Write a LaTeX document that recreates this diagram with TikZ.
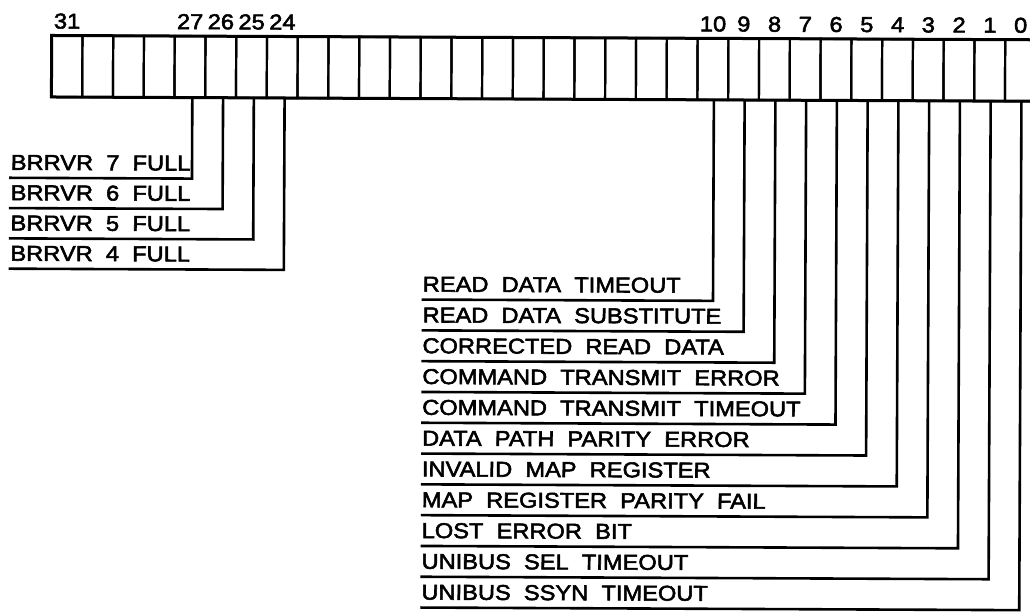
\documentclass[tikz,border=0pt]{standalone}
\usepackage{fontspec}
\newfontfamily\lblfont{Liberation Sans}[FakeStretch=1.1, WordSpace=2.0, FakeBold=2.5]
\tikzset{
  cell/.style={draw, line width=2.2pt, minimum width=30.76pt, minimum height=61.5pt, inner sep=0pt, outer sep=0pt},
  frame/.style={line width=3pt},
  bitnum/.style={font=\lblfont\fontsize{21.5}{26}\selectfont, inner sep=0pt, anchor=base},
  lbl/.style={font=\lblfont\fontsize{21.5}{26}\selectfont, inner sep=0pt, anchor=base west},
  leader/.style={line width=2.6pt},
}
\begin{document}
\begin{tikzpicture}[x=1pt,y=-1pt]
\useasboundingbox (0,0) rectangle (1030,611);
\clip (0,0) rectangle (1030,611);
\begin{scope}[rotate around={-0.25:(515,305)}, transform shape]
  % register cells
  \foreach \b in {0,...,31} {
    \node[cell] (c\b) at ({50.5+(31.5-\b)*30.76}, 68.25) {};
  }
  \draw[frame] (c31.north west) rectangle (c0.south east);
  % bit numbers
  \foreach \b in {31,27,26,25,24,10,9,8,7,6,5,4,3,2,1,0} {
    \node[bitnum] (n\b) at ({50.5+(31.5-\b)*30.76}, 30.5) {\b};
  }
  % left group
  \foreach \b/\t [count=\k from 0] in {27/BRRVR 7 FULL, 26/BRRVR 6 FULL, 25/BRRVR 5 FULL, 24/BRRVR 4 FULL} {
    \pgfmathsetmacro\yy{180+30.3*\k}
    \coordinate (s\b) at (8.5,\yy);
    \node[lbl] (t\b) at (10,\yy-8) {\t};
    \draw[leader] ([xshift=2.5pt]c\b.south) |- (s\b);
  }
  % right group
  \foreach \b/\t [count=\k from 0] in {10/READ DATA TIMEOUT, 9/READ DATA SUBSTITUTE, 8/CORRECTED READ DATA,
      7/COMMAND TRANSMIT ERROR, 6/COMMAND TRANSMIT TIMEOUT, 5/DATA PATH PARITY ERROR,
      4/INVALID MAP REGISTER, 3/MAP REGISTER PARITY FAIL, 2/LOST ERROR BIT,
      1/UNIBUS SEL TIMEOUT, 0/UNIBUS SSYN TIMEOUT} {
    \pgfmathsetmacro\yy{300+30.8*\k}
    \coordinate (s\b) at (421.7,\yy);
    \node[lbl] (t\b) at (422.5,\yy-8) {\t};
    \draw[leader] ([xshift=1.2pt]c\b.south) |- (s\b);
  }
\end{scope}
\end{tikzpicture}
\end{document}
